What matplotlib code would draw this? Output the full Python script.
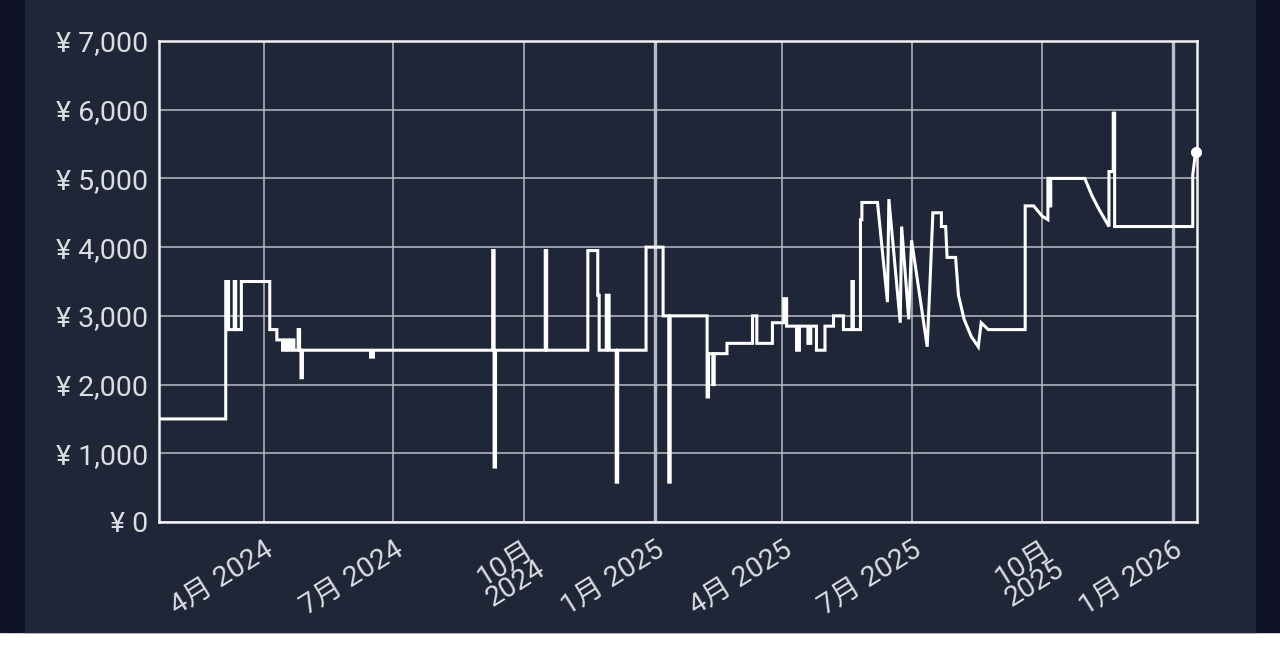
import numpy as np
import pandas as pd
import matplotlib
matplotlib.use("Agg")
import matplotlib.pyplot as plt
from matplotlib.patches import Rectangle

plt.rcParams["font.family"] = ["Roboto", "Noto Sans CJK JP", "DejaVu Sans"]

# ---- price history (date, yen); repeated dates are the vertical price jumps ----
dates = [
    "2024-01-18", "2024-03-05", "2024-03-05", "2024-03-07", "2024-03-07",
    "2024-03-11", "2024-03-11", "2024-03-12", "2024-03-12", "2024-03-16",
    "2024-03-16", "2024-04-05", "2024-04-05", "2024-04-10", "2024-04-10",
    "2024-04-14", "2024-04-14", "2024-04-16", "2024-04-16", "2024-04-18",
    "2024-04-18", "2024-04-20", "2024-04-20", "2024-04-22", "2024-04-22",
    "2024-04-25", "2024-04-25", "2024-04-26", "2024-04-26", "2024-04-27",
    "2024-04-27", "2024-04-28", "2024-04-28", "2024-06-15", "2024-06-15",
    "2024-06-17", "2024-06-17", "2024-09-09", "2024-09-09", "2024-09-10",
    "2024-09-10", "2024-09-11", "2024-09-11", "2024-10-16", "2024-10-16",
    "2024-10-17", "2024-10-17", "2024-11-15", "2024-11-15", "2024-11-22",
    "2024-11-22", "2024-11-23", "2024-11-23", "2024-11-28", "2024-11-28",
    "2024-11-30", "2024-11-30", "2024-12-05", "2024-12-05", "2024-12-06",
    "2024-12-06", "2024-12-26", "2024-12-26", "2025-01-07", "2025-01-07",
    "2025-01-11", "2025-01-11", "2025-01-12", "2025-01-12", "2025-02-07",
    "2025-02-07", "2025-02-08", "2025-02-08", "2025-02-11", "2025-02-11",
    "2025-02-12", "2025-02-12", "2025-02-21", "2025-02-21", "2025-03-11",
    "2025-03-11", "2025-03-14", "2025-03-14", "2025-03-25", "2025-03-25",
    "2025-04-02", "2025-04-02", "2025-04-04", "2025-04-04", "2025-04-11",
    "2025-04-11", "2025-04-13", "2025-04-13", "2025-04-19", "2025-04-19",
    "2025-04-21", "2025-04-21", "2025-04-25", "2025-04-25", "2025-05-01",
    "2025-05-01", "2025-05-07", "2025-05-07", "2025-05-14", "2025-05-14",
    "2025-05-20", "2025-05-20", "2025-05-21", "2025-05-21", "2025-05-26",
    "2025-05-26", "2025-05-27", "2025-05-27", "2025-06-07", "2025-06-14",
    "2025-06-15", "2025-06-23", "2025-06-24", "2025-06-29", "2025-07-01",
    "2025-07-12", "2025-07-14", "2025-07-16", "2025-07-22", "2025-07-22",
    "2025-07-25", "2025-07-26", "2025-08-01", "2025-08-03", "2025-08-07",
    "2025-08-12", "2025-08-17", "2025-08-19", "2025-08-24", "2025-09-19",
    "2025-09-19", "2025-09-25", "2025-10-01", "2025-10-05", "2025-10-05",
    "2025-10-06", "2025-10-06", "2025-10-07", "2025-10-07", "2025-10-31",
    "2025-11-05", "2025-11-10", "2025-11-17", "2025-11-17", "2025-11-20",
    "2025-11-20", "2025-11-21", "2025-11-21", "2026-01-15", "2026-01-15",
    "2026-01-17",
]
prices = [
    1500, 1500, 3500, 3500, 2800,
    2800, 3500, 3500, 2800, 2800,
    3500, 3500, 2800, 2800, 2650,
    2650, 2500, 2500, 2650, 2650,
    2500, 2500, 2650, 2650, 2500,
    2500, 2800, 2800, 2500, 2500,
    2100, 2100, 2500, 2500, 2400,
    2400, 2500, 2500, 3950, 3950,
    800, 800, 2500, 2500, 3950,
    3950, 2500, 2500, 3950, 3950,
    3300, 3300, 2500, 2500, 3300,
    3300, 2500, 2500, 580, 580,
    2500, 2500, 4000, 4000, 3000,
    3000, 580, 580, 3000, 3000,
    1820, 1820, 2450, 2450, 2000,
    2000, 2450, 2450, 2600, 2600,
    3000, 3000, 2600, 2600, 2900,
    2900, 3250, 3250, 2850, 2850,
    2500, 2500, 2850, 2850, 2600,
    2600, 2850, 2850, 2500, 2500,
    2850, 2850, 3000, 3000, 2800,
    2800, 3500, 3500, 2800, 2800,
    4400, 4400, 4650, 4650, 3200,
    4700, 2900, 4300, 2950, 4100,
    2550, 3500, 4500, 4500, 4300,
    4300, 3850, 3850, 3300, 2950,
    2700, 2550, 2900, 2800, 2800,
    4600, 4600, 4450, 4400, 5000,
    5000, 4600, 4600, 5000, 5000,
    4750, 4550, 4300, 5100, 5100,
    5950, 5950, 4300, 4300, 5050,
    5380,
]

tick_dates = ["2024-04-01", "2024-07-01", "2024-10-01", "2025-01-01",
              "2025-04-01", "2025-07-01", "2025-10-01", "2026-01-01"]
tick_labels = ["4月 2024", "7月 2024", "10月\n2024", "1月 2025",
               "4月 2025", "7月 2025", "10月\n2025", "1月 2026"]
y_ticks = [0, 1000, 2000, 3000, 4000, 5000, 6000, 7000]

NAVY = "#1f2637"
EDGE = "#0e1224"
GRID = "#b9bdc7"
TEXT = "#dcdde0"


def main():
    fig = plt.figure(figsize=(12.8, 6.7), dpi=100)
    fig.patch.set_facecolor("white")
    # dark card with darker side strips, white band at the bottom
    fig.add_artist(Rectangle((0, 38 / 670), 1, 1, transform=fig.transFigure,
                             color=EDGE, zorder=-3))
    fig.add_artist(Rectangle((25 / 1280, 38 / 670), 1230 / 1280, 1,
                             transform=fig.transFigure, color=NAVY, zorder=-2))

    ax = fig.add_axes([159 / 1280, 148 / 670, 1038 / 1280, 481 / 670])
    ax.set_facecolor(NAVY)

    x = pd.to_datetime(dates)
    ax.plot(x, prices, color="white", lw=2.2, solid_joinstyle="miter", zorder=3)
    # latest price marker sits on the right frame
    ax.plot(x[-1:], prices[-1:], "o", color="white", ms=7, zorder=4,
            clip_on=False)

    ax.set_ylim(0, 7000)
    ax.set_yticks(y_ticks)
    ax.set_yticklabels([f"¥ {v:,}" for v in y_ticks])
    ax.set_xlim(pd.Timestamp("2024-01-18"), pd.Timestamp("2026-01-18"))
    tk = pd.to_datetime(tick_dates)
    ax.set_xticks(tk)
    ax.set_xticklabels(tick_labels, rotation=32, ha="right", va="top",
                       rotation_mode="anchor", multialignment="right",
                       linespacing=0.8)

    ax.grid(True, color=GRID, lw=1.1, zorder=1)
    # year boundaries drawn heavier
    for d in tk:
        if d.month == 1:
            ax.axvline(d, color=GRID, lw=2.4, zorder=1)

    for s in ax.spines.values():
        s.set_color("#f2f2f2")
        s.set_linewidth(1.8)
    ax.tick_params(length=0, labelsize=20.5, colors=TEXT)
    ax.tick_params(axis="y", pad=8)
    ax.tick_params(axis="x", pad=10)

    fig.savefig("out.png", dpi=100, facecolor="white")


if __name__ == "__main__":
    main()
